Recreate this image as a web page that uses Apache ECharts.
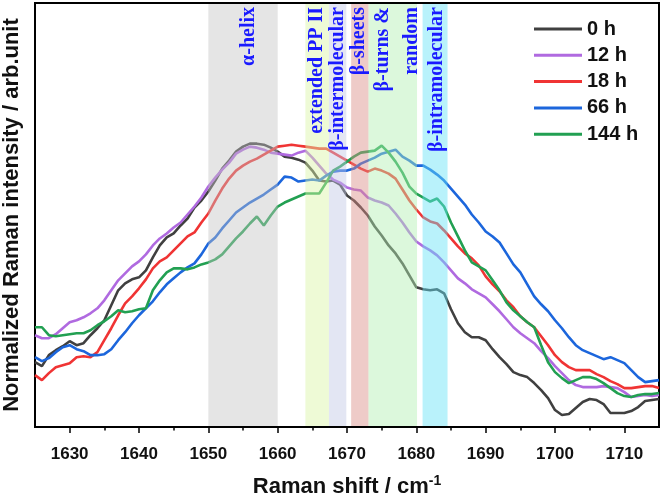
<!DOCTYPE html>
<html><head><meta charset="utf-8">
<script src="https://cdn.jsdelivr.net/npm/echarts@6/dist/echarts.min.js"></script>
<style>html,body{margin:0;padding:0;background:#fff;}#c{width:661px;height:498px;}</style>
</head><body><div id="c"></div>
<script>
// Raman shift positions (cm^-1)
const shift = [
1625,1626,1627,1628,1629,1630,1631,1632,1633,1634,
1635,1636,1637,1638,1639,1640,1641,1642,1643,1644,
1645,1646,1647,1648,1649,1650,1651,1652,1653,1654,
1655,1656,1657,1658,1659,1660,1661,1662,1663,1664,
1665,1666,1667,1668,1669,1670,1671,1672,1673,1674,
1675,1676,1677,1678,1679,1680,1681,1682,1683,1684,
1685,1686,1687,1688,1689,1690,1691,1692,1693,1694,
1695,1696,1697,1698,1699,1700,1701,1702,1703,1704,
1705,1706,1707,1708,1709,1710,1711,1712,1713,1714,
1715];
const h0 = [
65,61,72,77,81,86,82,84,92,99,
107,122,137,144,148,150,157,170,182,190,
194,202,209,220,227,236,247,259,267,276,
281,284,284,283,280,276,271,270,268,265,
257,247,246,247,243,232,227,220,212,201,
192,182,174,164,152,140,138,137,138,134,
118,104,95,90,90,87,78,70,63,55,
52,50,44,37,29,17,12,13,19,25,
28,27,23,14,14,14,16,20,26,27,
28];
const h12 = [
92,89,89,93,99,105,107,110,114,119,
127,137,147,154,161,166,173,182,189,194,
200,205,213,221,230,241,250,258,265,274,
278,281,280,278,275,274,273,272,275,277,
270,262,254,248,245,240,238,237,230,227,
225,222,214,205,195,186,181,177,172,165,
157,149,144,138,134,130,123,116,108,100,
94,89,84,76,69,61,54,47,42,40,
40,40,41,40,39,35,30,31,32,31,
32];
const h18 = [
52,47,54,60,62,64,70,71,70,75,
87,99,112,124,131,139,148,159,166,170,
177,184,191,195,205,214,227,239,249,257,
262,266,269,273,277,281,282,283,282,281,
280,279,279,275,271,267,263,259,256,259,
257,254,249,238,227,218,210,206,204,197,
189,181,174,169,162,151,143,136,127,120,
111,105,100,91,82,72,65,60,57,57,
57,53,50,46,43,39,39,40,41,41,
39];
const h66 = [
70,66,69,75,80,82,78,76,72,72,
73,78,87,95,104,112,119,126,135,143,
149,155,160,164,173,184,190,199,207,215,
220,225,229,233,238,243,251,250,246,247,
248,247,252,256,257,257,259,264,267,270,
274,276,278,271,267,262,262,258,253,247,
239,231,223,213,205,196,191,185,174,163,
155,143,131,123,116,107,99,90,82,77,
74,71,68,70,67,64,57,50,45,46,
47];
const h144 = [
100,100,92,91,92,93,94,94,97,102,
106,111,117,115,116,118,119,137,147,155,
159,159,158,160,163,165,168,173,181,189,
196,204,211,202,212,221,225,228,231,234,
234,234,245,257,261,266,271,275,276,277,
282,275,266,255,241,234,230,226,229,221,
205,191,177,165,161,157,147,137,125,117,
111,105,100,82,65,55,49,44,47,50,
50,48,44,39,34,31,30,32,33,33,
34];
const seriesNames = ['0 h','12 h','18 h','66 h','144 h'];
const seriesColors = ['#404040','#b06ae0','#f03434','#1c66dc','#22a052'];
const seriesData = [h0,h12,h18,h66,h144];

// Assignment bands
const bandStart = [1650, 1664.0, 1667.4, 1670.6, 1673.1, 1680.9];
const bandEnd   = [1660, 1667.4, 1669.9, 1673.1, 1680.1, 1684.5];
const bandColors = ['rgba(194,194,194,0.43)','rgba(217,244,164,0.45)','rgba(193,199,228,0.45)',
                    'rgba(217,139,133,0.45)','rgba(177,239,177,0.45)','rgba(99,226,246,0.45)'];
// Band labels
const labelText = ['α-helix','extended PP II','β-intermolecular','β-sheets','β-turns &','random','β-intramolecular'];
const labelX    = [1655.9, 1665.6, 1668.7, 1671.7, 1675.1, 1679.4, 1682.9];

const xTicks = [1630,1640,1650,1660,1670,1680,1690,1700,1710];
const xMinorTicks = [1635,1645,1655,1665,1675,1685,1695,1705];

const YMIN = 0, YMAX = 425;
const chart = echarts.init(document.getElementById('c'), null, {renderer:'canvas'});

const lineSeries = seriesNames.map((n,i)=>({
  name:n, type:'line', xAxisIndex:0, yAxisIndex:0,
  data: shift.map((x,k)=>[x, seriesData[i][k]]),
  showSymbol:false, symbol:'none', smooth:false,
  lineStyle:{color:seriesColors[i], width:2.6},
  itemStyle:{color:seriesColors[i]},
  z:2
}));

const bandSeries = {
  type:'custom', name:'bands', xAxisIndex:0, yAxisIndex:0, z:5, silent:true,
  data: bandStart.map((s,i)=>[s, bandEnd[i], i]),
  encode:{x:[0,1]},
  renderItem:(params, api)=>{
    const p1 = api.coord([api.value(0), YMAX]);
    const p2 = api.coord([api.value(1), YMIN]);
    return {type:'rect', shape:{x:p1[0], y:p1[1]+1, width:p2[0]-p1[0], height:p2[1]-p1[1]-2},
      style:{fill:bandColors[api.value(2)]}};
  }
};
const labelSeries = {
  type:'custom', name:'labels', xAxisIndex:0, yAxisIndex:0, z:6, silent:true,
  data: labelX.map((x,i)=>[x, i]),
  encode:{x:0},
  renderItem:(params, api)=>{
    const p = api.coord([api.value(0), YMAX]);
    return {type:'text', x:p[0], y:p[1]+4, rotation:Math.PI/2,
      style:{text:labelText[api.value(1)], fill:'#1a1aff',
        font:'bold 20px "Liberation Serif", "Times New Roman", serif',
        align:'right', verticalAlign:'middle'}};
  }
};

chart.setOption({
  animation:false,
  grid:{left:35, right:2, top:3, bottom:71, outerBoundsMode:'none', containLabel:false,
        show:true, borderColor:'#000', borderWidth:2, backgroundColor:'transparent'},
  legend:{
    orient:'vertical', left:529, top:14, itemWidth:48, itemHeight:3, itemGap:6.3, icon:'rect',
    data:seriesNames,
    textStyle:{fontFamily:'"Liberation Sans", Arial, sans-serif', fontWeight:'bold', fontSize:20, color:'#111',
      width:51, align:'right', lineHeight:20}
  },
  xAxis:[{
    type:'value', min:1625, max:1715,
    name:'{a|Raman shift / cm}{b|-1}', nameLocation:'middle', nameGap:47,
    nameTextStyle:{rich:{
      a:{fontFamily:'"Liberation Sans", Arial, sans-serif', fontWeight:'bold', fontSize:22, color:'#111'},
      b:{fontFamily:'"Liberation Sans", Arial, sans-serif', fontWeight:'bold', fontSize:14, color:'#111', verticalAlign:'top', padding:[0,0,12,0]}
    }},
    axisLine:{show:true, lineStyle:{color:'#000', width:2}},
    axisTick:{show:true, inside:false, length:6, lineStyle:{color:'#000', width:1.5}, customValues:xTicks},
    axisLabel:{show:true, customValues:xTicks, margin:19, formatter:v=>String(v),
      fontFamily:'"Liberation Sans", Arial, sans-serif', fontWeight:'bold', fontSize:17, color:'#111'},
    splitLine:{show:false}
  },{
    type:'value', min:1625, max:1715, position:'bottom',
    axisLine:{show:false},
    axisTick:{show:true, inside:false, length:3.5, lineStyle:{color:'#000', width:1.5}, customValues:xMinorTicks},
    axisLabel:{show:false}, splitLine:{show:false}
  }],
  yAxis:{
    type:'value', min:YMIN, max:YMAX,
    name:'Normalized Raman intensity / arb.unit', nameLocation:'middle', nameGap:12, nameRotate:90,
    nameTextStyle:{fontFamily:'"Liberation Sans", Arial, sans-serif', fontWeight:'bold', fontSize:22, color:'#111'},
    axisLine:{show:true, lineStyle:{color:'#000', width:2}},
    axisTick:{show:false}, axisLabel:{show:false}, splitLine:{show:false}
  },
  series:[...lineSeries, bandSeries, labelSeries]
});
</script></body></html>
